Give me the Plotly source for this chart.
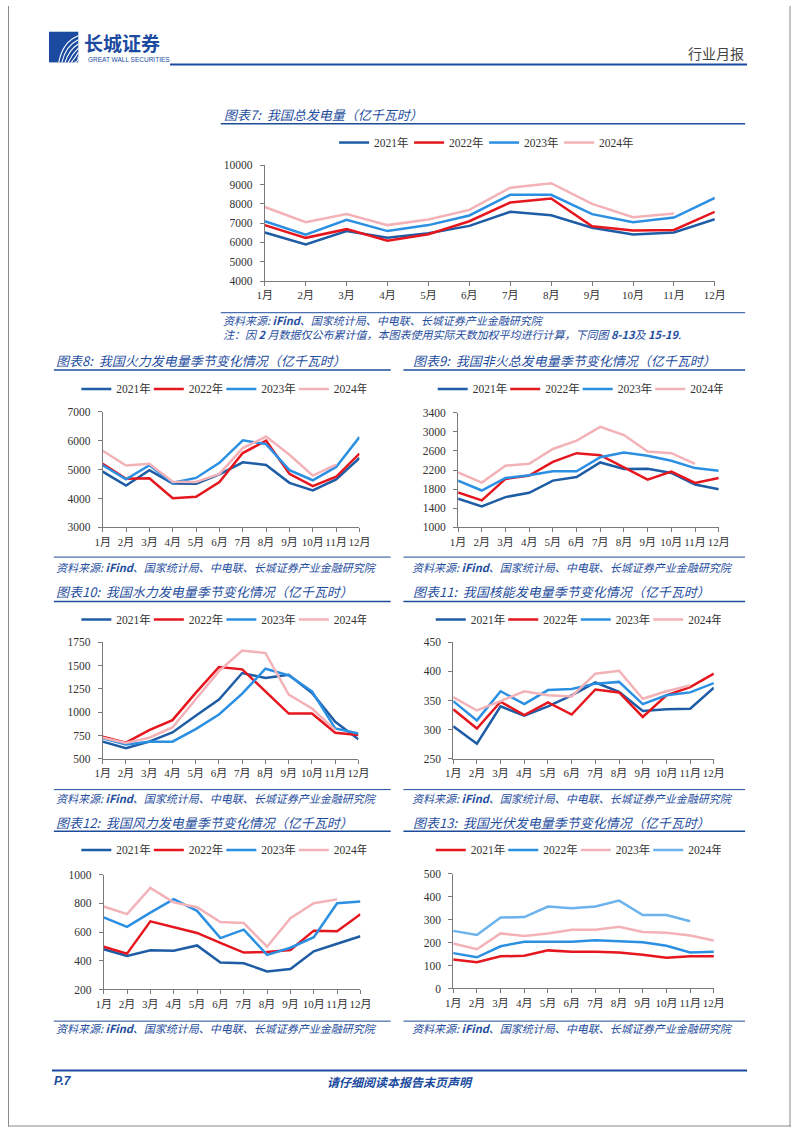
import plotly.graph_objects as go

W, H = 802, 1133

months = ["1月", "2月", "3月", "4月", "5月", "6月", "7月", "8月", "9月", "10月", "11月", "12月"]
years_a = ["2021年", "2022年", "2023年", "2024年"]

# 图表7 总发电量
total_2021 = [6520, 5900, 6590, 6240, 6480, 6860, 7590, 7410, 6760, 6410, 6520, 7210]
total_2022 = [6900, 6240, 6690, 6090, 6430, 7100, 8070, 8280, 6840, 6620, 6650, 7590]
total_2023 = [7100, 6400, 7170, 6590, 6900, 7400, 8470, 8470, 7470, 7050, 7290, 8310]
total_2024 = [7840, 7050, 7470, 6900, 7190, 7690, 8840, 9070, 8000, 7310, 7500]

# 图表8 火力
thermal_2021 = [4930, 4450, 4980, 4520, 4510, 4830, 5250, 5160, 4540, 4280, 4660, 5400]
thermal_2022 = [5200, 4680, 4700, 4010, 4060, 4570, 5570, 6000, 4850, 4430, 4750, 5550]
thermal_2023 = [5150, 4660, 5150, 4540, 4710, 5230, 6010, 5880, 4980, 4630, 5090, 6120]
thermal_2024 = [5650, 5140, 5200, 4580, 4570, 4850, 5740, 6140, 5510, 4790, 5170]

# 图表9 非火
nonthermal_2021 = [1600, 1441, 1634, 1724, 1979, 2055, 2359, 2221, 2228, 2138, 1897, 1800]
nonthermal_2022 = [1731, 1566, 2014, 2083, 2372, 2552, 2510, 2262, 2000, 2166, 1931, 2034]
nonthermal_2023 = [1979, 1772, 2034, 2090, 2172, 2172, 2469, 2566, 2497, 2393, 2241, 2186]
nonthermal_2024 = [2152, 1938, 2290, 2331, 2641, 2814, 3103, 2931, 2586, 2552, 2331]

# 图表10 水力
hydro_2021 = [685, 614, 685, 784, 962, 1136, 1420, 1366, 1402, 1207, 898, 710]
hydro_2022 = [738, 674, 809, 915, 1207, 1484, 1459, 1217, 986, 986, 781, 756]
hydro_2023 = [720, 656, 685, 685, 820, 976, 1200, 1466, 1395, 1224, 827, 773]
hydro_2024 = [727, 670, 727, 837, 1139, 1440, 1661, 1633, 1189, 1040, 809]

# 图表11 核能
nuclear_2021 = [306, 276, 340, 324, 340, 359, 381, 365, 332, 335, 336, 372]
nuclear_2022 = [335, 302, 348, 325, 347, 326, 369, 364, 322, 359, 373, 396]
nuclear_2023 = [349, 316, 366, 344, 368, 370, 379, 382, 344, 359, 364, 380]
nuclear_2024 = [356, 333, 349, 366, 359, 357, 396, 401, 353, 366, 376]

# 图表12 风力
wind_2021 = [480, 434, 473, 470, 507, 388, 383, 326, 342, 466, 519, 571]
wind_2022 = [498, 450, 675, 633, 594, 525, 457, 461, 475, 610, 606, 725]
wind_2023 = [702, 636, 736, 830, 748, 558, 617, 441, 491, 564, 801, 814]
wind_2024 = [778, 725, 908, 807, 773, 670, 663, 498, 697, 801, 828]

# 图表13 光伏
solar_2021 = [126, 114, 140, 143, 166, 160, 160, 157, 147, 134, 140, 140]
solar_2022 = [154, 136, 184, 204, 204, 204, 210, 204, 201, 186, 157, 160]
solar_2023 = [196, 171, 240, 229, 240, 256, 256, 269, 246, 243, 231, 209]
solar_2024 = [251, 233, 309, 311, 357, 350, 357, 383, 320, 320, 293]

C_DARK = "#1E5DA6"
C_RED = "#E5161E"
C_BLUE = "#2B8FE2"
C_PINK = "#F3B2B7"
C_LBLUE = "#6CB2EC"
C_TXT = "#1F4E9E"
C_LINE = "#1D4C9C"

SERIF = "Liberation Serif, Noto Sans CJK SC"
CJK = "Noto Sans CJK SC"


def fx(x):
    return x / W


def fy(y):
    return 1 - y / H


charts = [
    dict(box=(263, 724, 161, 278), yr=(4000, 10000), dt=1000,
         series=[total_2021, total_2022, total_2023, total_2024],
         colors=[C_DARK, C_RED, C_BLUE, C_PINK], names=years_a,
         leg=(334, 138), ew=30),
    dict(box=(97, 360, 410, 527), yr=(3000, 7000), dt=1000,
         series=[thermal_2021, thermal_2022, thermal_2023, thermal_2024],
         colors=[C_DARK, C_RED, C_BLUE, C_PINK], names=years_a,
         leg=(70, 387), ew=27.5),
    dict(box=(461, 728, 411, 527), yr=(1000, 3400), dt=400,
         series=[nonthermal_2021, nonthermal_2022, nonthermal_2023, nonthermal_2024],
         colors=[C_DARK, C_RED, C_BLUE, C_PINK], names=years_a,
         leg=(435, 387), ew=27.5),
    dict(box=(97, 359, 643, 761), yr=(500, 1750), dt=250,
         series=[hydro_2021, hydro_2022, hydro_2023, hydro_2024],
         colors=[C_DARK, C_RED, C_BLUE, C_PINK], names=years_a,
         leg=(70, 620), ew=27.5),
    dict(box=(456, 723, 643, 761), yr=(250, 450), dt=50,
         series=[nuclear_2021, nuclear_2022, nuclear_2023, nuclear_2024],
         colors=[C_DARK, C_RED, C_BLUE, C_PINK], names=years_a,
         leg=(433, 620), ew=27.5),
    dict(box=(98, 361, 878, 994), yr=(200, 1000), dt=200,
         series=[wind_2021, wind_2022, wind_2023, wind_2024],
         colors=[C_DARK, C_RED, C_BLUE, C_PINK], names=years_a,
         leg=(70, 853), ew=27.5),
    dict(box=(456, 723, 877, 993), yr=(0, 500), dt=100,
         series=[solar_2021, solar_2022, solar_2023, solar_2024],
         colors=[C_RED, C_BLUE, C_PINK, C_LBLUE], names=years_a,
         leg=(433, 853), ew=27.5),
]

fig = go.Figure()
layout = dict(
    width=W, height=H, margin=dict(l=0, r=0, t=0, b=0),
    paper_bgcolor="white", plot_bgcolor="white",
    font=dict(family=SERIF, size=12, color="#333"),
)

for i, c in enumerate(charts):
    n = "" if i == 0 else str(i + 1)
    x0, x1, y0, y1 = c["box"]
    legname = "legend" + n
    for name, col, vals in zip(c["names"], c["colors"], c["series"]):
        fig.add_trace(go.Scatter(
            x=months[:len(vals)], y=vals, name=name, mode="lines",
            line=dict(color=col, width=2.5), xaxis="x" + n, yaxis="y" + n,
            legend=legname, hoverinfo="skip"))
    layout["xaxis" + n] = dict(
        domain=[fx(x0), fx(x1)], anchor="y" + n, type="category",
        categoryorder="array", categoryarray=months, range=[0, 11],
        showline=True, linecolor="#7a7a7a", linewidth=1, ticks="outside",
        ticklen=4, tickcolor="#7a7a7a", showgrid=False, zeroline=False,
        tickangle=0,
        tickfont=dict(family=SERIF, size=11, color="#333"), fixedrange=True)
    layout["yaxis" + n] = dict(
        domain=[fy(y1), fy(y0)], anchor="x" + n, range=list(c["yr"]),
        tick0=c["yr"][0], dtick=c["dt"], tickformat="d", showline=True,
        linecolor="#7a7a7a", linewidth=1, ticks="outside", ticklen=4,
        tickcolor="#7a7a7a", showgrid=False, zeroline=False,
        ticklabelstandoff=5,
        tickfont=dict(family=SERIF, size=11.5, color="#333"), fixedrange=True)
    lx, ly = c["leg"]
    layout[legname] = dict(
        orientation="h", x=fx(lx), y=fy(ly), xanchor="left", yanchor="middle",
        entrywidth=c["ew"], entrywidthmode="pixels", bgcolor="rgba(0,0,0,0)",
        font=dict(family=SERIF, size=11.5, color="#333"), itemclick=False,
        itemdoubleclick=False)

titles = [
    ("图表7:  我国总发电量（亿千瓦时）", 219, 110),
    ("图表8:  我国火力发电量季节变化情况（亿千瓦时）", 47, 358),
    ("图表9:  我国非火总发电量季节变化情况（亿千瓦时）", 413, 358),
    ("图表10:  我国水力发电量季节变化情况（亿千瓦时）", 47, 592),
    ("图表11:  我国核能发电量季节变化情况（亿千瓦时）", 413, 592),
    ("图表12:  我国风力发电量季节变化情况（亿千瓦时）", 47, 825),
    ("图表13:  我国光伏发电量季节变化情况（亿千瓦时）", 413, 825),
]
src = "资料来源: <b>iFind</b>、国家统计局、中电联、长城证券产业金融研究院"
sources = [(218, 317), (47, 567), (412, 567), (47, 800), (412, 800), (47, 1033), (412, 1033)]
note = "注：因 <b>2</b> 月数据仅公布累计值，本图表使用实际天数加权平均进行计算，下同图 <b>8-13</b>及 <b>15-19</b>."

ann = []
for t, x, y in titles:
    ann.append(dict(text=t, x=fx(x), y=fy(y), xref="paper", yref="paper",
                    xanchor="left", yanchor="middle", showarrow=False,
                    font=dict(family=CJK, size=13, color=C_TXT, style="italic")))
for x, y in sources:
    ann.append(dict(text=src, x=fx(x), y=fy(y), xref="paper", yref="paper",
                    xanchor="left", yanchor="middle", showarrow=False,
                    font=dict(family=CJK, size=11, color=C_TXT, style="italic")))
ann.append(dict(text=note, x=fx(218), y=fy(332), xref="paper", yref="paper",
                xanchor="left", yanchor="middle", showarrow=False,
                font=dict(family=CJK, size=11, color=C_TXT, style="italic")))

# header / footer texts
ann.append(dict(text="<b>长城证券</b>", x=fx(76), y=fy(37), xref="paper", yref="paper",
                xanchor="left", yanchor="middle", showarrow=False,
                font=dict(family=CJK, size=19, color="#1B4BA0")))
ann.append(dict(text="GREAT WALL SECURITIES", x=fx(80), y=fy(54.5), xref="paper", yref="paper",
                xanchor="left", yanchor="middle", showarrow=False,
                font=dict(family="Liberation Sans Narrow, Liberation Sans", size=6.5, color="#1B4BA0")))
ann.append(dict(text="行业月报", x=fx(756), y=fy(48), xref="paper", yref="paper",
                xanchor="right", yanchor="middle", showarrow=False,
                font=dict(family=CJK, size=14, color="#444")))
ann.append(dict(text="<b>P.7</b>", x=fx(45), y=fy(1087), xref="paper", yref="paper",
                xanchor="left", yanchor="middle", showarrow=False,
                font=dict(family="Liberation Sans", size=12, color="#1B4BA0", style="italic")))
ann.append(dict(text="<b>请仔细阅读本报告末页声明</b>", x=fx(402), y=fy(1087), xref="paper", yref="paper",
                xanchor="center", yanchor="middle", showarrow=False,
                font=dict(family=CJK, size=12, color="#1B4BA0", style="italic")))

shapes = []


def hline(x0, x1, y, w=1.5, col=C_LINE):
    shapes.append(dict(type="line", xref="paper", yref="paper", x0=fx(x0), x1=fx(x1),
                       y0=fy(y), y1=fy(y), line=dict(color=col, width=w)))


# title underlines
hline(218, 755, 119)
hline(47, 392, 368); hline(405, 755, 368)
hline(47, 392, 602); hline(405, 755, 602)
hline(47, 392, 834); hline(405, 755, 834)
# source lines
hline(218, 755, 310, 1)
hline(47, 392, 557, 1); hline(405, 755, 557, 1)
hline(47, 392, 792, 1); hline(405, 755, 792, 1)
hline(47, 392, 1026, 1); hline(405, 755, 1026, 1)
# header / footer lines
hline(166, 757, 59, 2, "#1B4BA0")
hline(45, 757, 1076, 2, "#1B4BA0")

# page border
for (a, b, c2, d) in [(0.5, 0.5, 0, 1132.5), (801, 801, 0, 1132.5), (0, 802, 1132, 1132)]:
    shapes.append(dict(type="line", xref="paper", yref="paper", x0=fx(a), x1=fx(b),
                       y0=fy(c2), y1=fy(d), line=dict(color="#8a8a8a", width=1)))

# logo
shapes.append(dict(type="rect", xref="paper", yref="paper", x0=fx(42), x1=fx(72),
                   y0=fy(57), y1=fy(26), fillcolor="#1B4BA0", line=dict(width=0)))
for k in range(6):
    sx, sy = 52 + k * 3.2, 57
    ex, ey = 72, 30 + k * 4.2
    cx, cy = sx + 4, ey + 6
    path = "M {:.5f},{:.5f} Q {:.5f},{:.5f} {:.5f},{:.5f}".format(
        fx(sx), fy(sy), fx(cx), fy(cy), fx(ex), fy(ey))
    shapes.append(dict(type="path", xref="paper", yref="paper", path=path,
                       line=dict(color="white", width=1.1)))

layout["annotations"] = ann
layout["shapes"] = shapes
fig.update_layout(**layout)
fig.write_html("out.html", config={"displayModeBar": False},
               post_script="document.body.style.margin='0';document.body.style.overflow='hidden';")
